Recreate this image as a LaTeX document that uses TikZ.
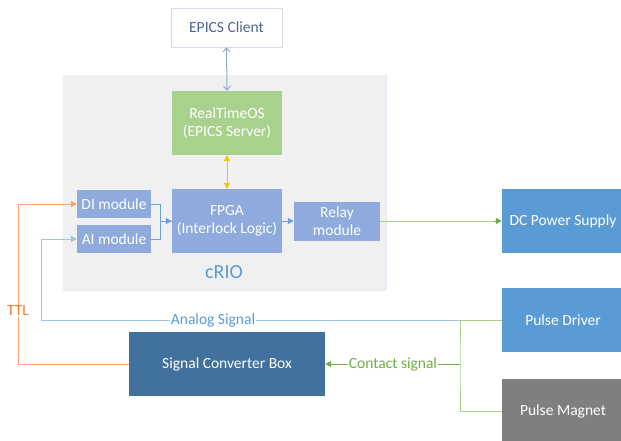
\documentclass[tikz,border=0pt]{standalone}
\usepackage{fontspec}
\setmainfont{Carlito}
\usetikzlibrary{arrows.meta}
\definecolor{bggray}{HTML}{F0F0F0}
\definecolor{bgedge}{HTML}{DEEAF6}
\definecolor{clientedge}{HTML}{D5DDE8}
\definecolor{clienttext}{HTML}{4A6590}
\definecolor{clientline}{HTML}{8EAACB}
\definecolor{rtosgreen}{HTML}{A9D18E}
\definecolor{modblue}{HTML}{8FAADC}
\definecolor{devblue}{HTML}{5B9BD5}
\definecolor{maggray}{HTML}{7F7F7F}
\definecolor{scbblue}{HTML}{41719C}
\definecolor{ttlline}{HTML}{F4A36B}
\definecolor{ttltext}{HTML}{ED7D31}
\definecolor{analogline}{HTML}{9DC3E6}
\definecolor{modline}{HTML}{6FA0D8}
\definecolor{lightgreen}{HTML}{A9D18E}
\definecolor{darkgreen}{HTML}{70AD47}
\definecolor{gold}{HTML}{FFC000}
\begin{document}
\begin{tikzpicture}[x=1pt,y=-1pt,
  font=\fontsize{15.5}{18.5}\selectfont,
  box/.style={rectangle, inner sep=0pt, text=white, align=center},
  lbl/.style={inner sep=1pt, fill=white},
  tip/.style={-{Triangle[length=6pt,width=6pt]}},
  ln/.style={line width=1pt}]
\useasboundingbox (0,0) rectangle (621,440);
% cRIO background
\fill[bggray] (63,75) rectangle (386,290);
\draw[bgedge, line width=1.5pt] (63,290.5) -- (386.5,290.5) -- (386.5,75);
% nodes
\node[box, draw=clientedge, fill=white, text=clienttext, minimum width=111pt, minimum height=39pt] (client) at (226.5,27.5) {EPICS Client};
\node[box, fill=rtosgreen, minimum width=110pt, minimum height=64pt] (rtos) at (227,123) {RealTimeOS\\(EPICS Server)};
\node[box, fill=modblue, minimum width=110pt, minimum height=64pt] (fpga) at (227,221) {FPGA\\(Interlock Logic)};
\node[box, fill=modblue, minimum width=74pt, minimum height=28pt] (di) at (114,204) {DI module};
\node[box, fill=modblue, minimum width=74pt, minimum height=28pt] (ai) at (114,239) {AI module};
\node[box, fill=modblue, minimum width=86pt, minimum height=39pt] (relay) at (337,221) {Relay\\module};
\node[text=devblue, font=\fontsize{20}{23}\selectfont] (crio) at (224,272) {cRIO};
\node[box, fill=devblue, minimum width=122pt, minimum height=64pt] (dcps) at (563,221) {DC Power Supply};
\node[box, fill=devblue, minimum width=122pt, minimum height=64pt] (pd) at (563,320) {Pulse Driver};
\node[box, fill=maggray, minimum width=122pt, minimum height=64pt] (pm) at (563,411) {Pulse Magnet};
\node[box, fill=scbblue, minimum width=196pt, minimum height=64pt] (scb) at (227,364) {Signal Converter Box};
% connectors
\draw[ln, clientline, {Straight Barb[length=4pt,width=7pt]}-{Straight Barb[length=4pt,width=7pt]}] (client.south) -- (rtos.north);
\draw[ln, gold, {Triangle[length=6pt,width=6pt]}-{Triangle[length=6pt,width=6pt]}] (rtos.south) -- (fpga.north);
\draw[ln, modline] (ai.east) -- ++(9,0) |- (fpga.west);
\draw[ln, modline, tip] (di.east) -- ++(9,0) |- (fpga.west);
\draw[ln, modline, tip] (fpga.east) -- (relay.west);
\draw[ln, lightgreen] (relay.east) -- ([xshift=-6pt]dcps.west);
\draw[ln, darkgreen, tip] ([xshift=-8pt]dcps.west) -- (dcps.west);
% TTL
\coordinate (ttlx) at (18,0);
\draw[ln, ttlline, tip] (scb.west) -| (ttlx |- di.west) -- (di.west);
\node[lbl, text=ttltext] (ttl) at (18,311) {TTL};
% Analog
\coordinate (anx) at (41,0);
\draw[ln, analogline, tip] (pd.west) -| (anx |- ai.west) -- (ai.west);
\node[lbl, text=devblue] (analog) at (213,320) {Analog Signal};
% Contact
\coordinate (split) at (460,364);
\draw[ln, lightgreen] (pd.west) -| (split) |- (pm.west);
\draw[ln, darkgreen, tip] (split) -- (scb.east);
\node[lbl, text=darkgreen] (contact) at (393,364) {Contact signal};
\end{tikzpicture}
\end{document}
